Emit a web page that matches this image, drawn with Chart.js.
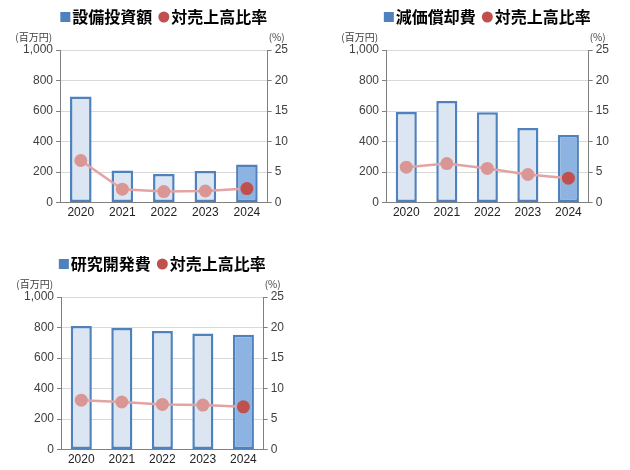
<!DOCTYPE html>
<html>
<head>
<meta charset="utf-8">
<script src="https://cdn.jsdelivr.net/npm/chart.js@4.4.1/dist/chart.umd.min.js"></script>
<style>
body { margin: 0; background: #fff; width: 630px; height: 470px; position: relative; overflow: hidden; }
.box { position: absolute; }
</style>
</head>
<body>
<div class="box" style="left:0;top:0;width:300px;height:225px"><canvas id="c1"></canvas></div>
<div class="box" style="left:326px;top:0;width:300px;height:225px"><canvas id="c2"></canvas></div>
<div class="box" style="left:1px;top:247px;width:300px;height:225px"><canvas id="c3"></canvas></div>
<script>
var years = ["2020", "2021", "2022", "2023", "2024"];
var capexTitle = "設備投資額";
var capexValues = [695, 211, 187, 207, 250];
var capexRatio = [6.9, 2.2, 1.8, 1.9, 2.3];
var deprTitle = "減価償却費";
var deprValues = [594, 666, 592, 489, 443];
var deprRatio = [5.8, 6.4, 5.6, 4.6, 4.0];
var rdTitle = "研究開発費";
var rdValues = [810, 797, 778, 760, 752];
var rdRatio = [8.1, 7.8, 7.4, 7.3, 7.0];
var ratioTitle = "対売上高比率";

var font = "'Liberation Sans', 'Noto Sans CJK JP', sans-serif";

// legend + unit captions drawn by hand so the spacing matches
var extras = {
    id: "extras",
    afterDraw: function (chart) {
        var ctx = chart.ctx;
        var area = chart.chartArea;
        var title = chart.data.datasets[1].label;
        ctx.save();
        ctx.fillStyle = "#404040";
        ctx.font = "10px 'Noto Sans CJK JP'";
        ctx.textBaseline = "middle";
        ctx.textAlign = "right";
        ctx.fillText("(百万円)", area.left - 8, area.top - 13);
        ctx.textAlign = "left";
        ctx.fillText("(%)", area.right + 1, area.top - 13);

        ctx.font = "bold 16px 'Noto Sans CJK JP'";
        var w1 = ctx.measureText(title).width;
        var w2 = ctx.measureText(ratioTitle).width;
        var total = 10 + 2 + w1 + 6 + 11 + 2 + w2;
        var x = (area.left + area.right) / 2 - total / 2;
        var y = 17;
        ctx.fillStyle = "#4f81bd";
        ctx.fillRect(x, y - 5, 10, 10);
        x += 12;
        ctx.fillStyle = "#000";
        ctx.fillText(title, x, y);
        x += w1 + 6;
        ctx.fillStyle = "#c0504d";
        ctx.beginPath();
        ctx.arc(x + 5.5, y, 5.5, 0, Math.PI * 2);
        ctx.fill();
        x += 13;
        ctx.fillStyle = "#000";
        ctx.fillText(ratioTitle, x, y);
        ctx.restore();
    }
};

function makeChart(id, title, values, ratio, padRight) {
    var n = values.length;
    var barFill = [], dotFill = [];
    for (var i = 0; i < n; i++) {
        barFill.push(i == n - 1 ? "#8db3e2" : "#dce6f2");
        dotFill.push(i == n - 1 ? "#c0504d" : "#d99694");
    }
    return new Chart(document.getElementById(id), {
        type: "bar",
        data: {
            labels: years,
            datasets: [{
                type: "line",
                label: ratioTitle,
                data: ratio,
                yAxisID: "y2",
                borderColor: "#e3a3a2",
                borderWidth: 2.5,
                pointRadius: 6.5,
                pointBackgroundColor: dotFill,
                pointBorderColor: dotFill,
                pointBorderWidth: 0,
                order: 0
            }, {
                label: title,
                data: values,
                yAxisID: "y",
                backgroundColor: barFill,
                borderColor: "#4f81bd",
                borderWidth: 2.5,
                borderSkipped: false,
                barPercentage: 0.52,
                categoryPercentage: 1,
                order: 1
            }]
        },
        options: {
            responsive: true,
            maintainAspectRatio: false,
            animation: false,
            layout: { padding: { left: 20, right: padRight, top: 50, bottom: 2 } },
            plugins: {
                tooltip: { enabled: false },
                legend: { display: false }
            },
            scales: {
                x: {
                    grid: { drawOnChartArea: false, drawTicks: false },
                    border: { color: "#808080", width: 1 },
                    ticks: { color: "#222", font: { family: font, size: 12 }, padding: 3 }
                },
                y: {
                    position: "left",
                    min: 0, max: 1000,
                    ticks: {
                        stepSize: 200, color: "#404040", padding: 3,
                        font: { family: font, size: 12 },
                        callback: function (v) { return v.toLocaleString("en-US"); }
                    },
                    grid: { color: "#d9d9d9", tickColor: "#808080", tickLength: 4 },
                    border: { color: "#808080", width: 1 }
                },
                y2: {
                    position: "right",
                    min: 0, max: 25,
                    ticks: { stepSize: 5, color: "#404040", padding: 3, font: { family: font, size: 12 } },
                    grid: { drawOnChartArea: false, tickColor: "#808080", tickLength: 4 },
                    border: { color: "#808080", width: 1 }
                }
            }
        },
        plugins: [extras]
    });
}

makeChart("c1", capexTitle, capexValues, capexRatio, 9);
makeChart("c2", deprTitle, deprValues, deprRatio, 14);
makeChart("c3", rdTitle, rdValues, rdRatio, 14);
</script>
</body>
</html>
